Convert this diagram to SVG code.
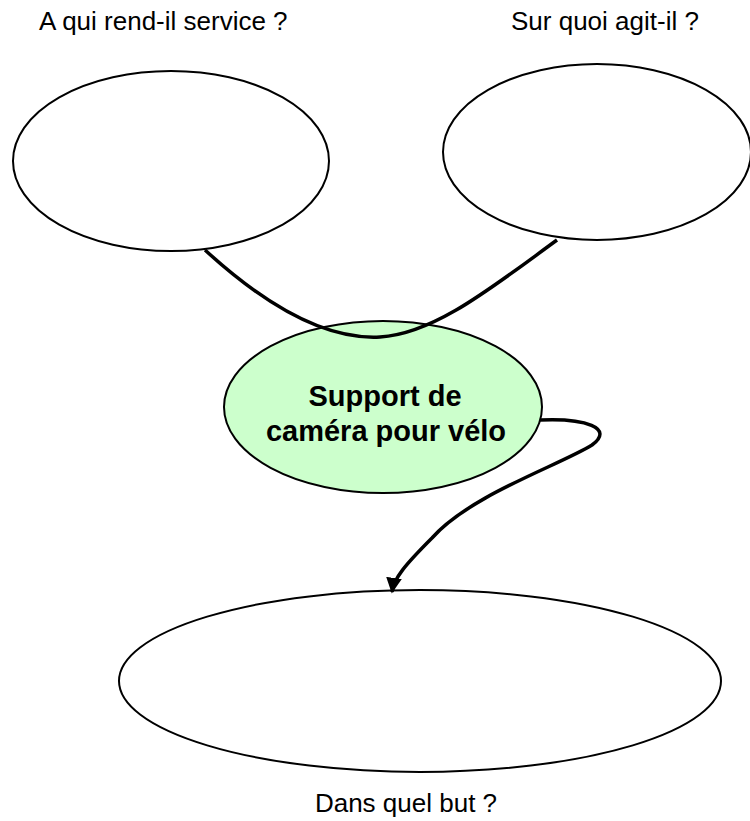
<svg xmlns="http://www.w3.org/2000/svg" width="750" height="821" viewBox="0 0 750 821">
<defs>
<style>
.node{fill:#ffffff;stroke:#000000;stroke-width:2}
.main{fill:#ccffcc;stroke:#000000;stroke-width:2}
.conn{fill:none;stroke:#000000;stroke-width:3.5}
.lbl{font-family:"Liberation Sans",Arial,sans-serif;font-size:26px;fill:#000000}
.title{font-family:"Liberation Sans",Arial,sans-serif;font-size:29px;font-weight:bold;fill:#000000;text-anchor:middle}
</style>
<marker id="arrow" viewBox="0 0 10 10" refX="9" refY="5" markerWidth="4.5" markerHeight="4.5" orient="auto" markerUnits="strokeWidth">
<path d="M0,0 L10,5 L0,10 z" fill="#000000"/>
</marker>
</defs>
<text class="lbl" x="39" y="30">A qui rend-il service ?</text>
<text class="lbl" x="511" y="30">Sur quoi agit-il ?</text>
<g id="node-left"><ellipse class="node" cx="171" cy="161" rx="158" ry="90"/></g>
<g id="node-right"><ellipse class="node" cx="597" cy="152" rx="154" ry="88"/></g>
<g id="node-center"><ellipse class="main" cx="383" cy="407" rx="159" ry="86"/>
<text class="title" x="385" y="406">Support de</text>
<text class="title" x="386" y="441">caméra pour vélo</text></g>
<g id="node-bottom"><ellipse class="node" cx="420" cy="681" rx="301" ry="91"/></g>
<g id="connectors">
<path class="conn" d="M205,250 C265,305 325,340 380,337 C435,334 495,285 557,240"/>
<path class="conn" d="M540,420 C585,418 615,428 592,445 C560,465 470,495 432,538 C405,565 394,578 392,592" marker-end="url(#arrow)"/>
</g>
<text class="lbl" x="406" y="812" text-anchor="middle">Dans quel but ?</text>
</svg>
